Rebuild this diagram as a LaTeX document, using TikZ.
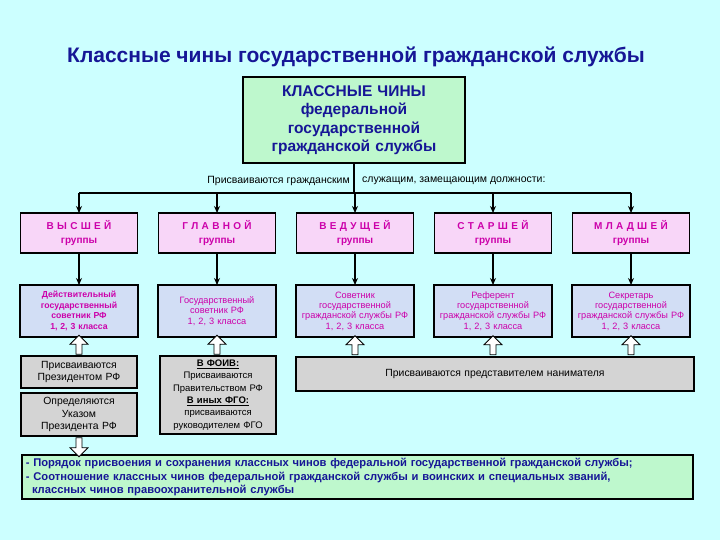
\documentclass[tikz,border=0pt]{standalone}
\usepackage{fontspec}
\setmainfont{Liberation Sans}
\usepackage{tikz}
\usetikzlibrary{arrows.meta,positioning,calc,shapes.arrows}
\definecolor{bgcyan}{RGB}{204,255,255}
\definecolor{navy}{RGB}{22,22,150}
\definecolor{mintgreen}{RGB}{190,248,205}
\definecolor{pinkbox}{RGB}{248,214,248}
\definecolor{bluebox}{RGB}{210,222,245}
\definecolor{greybox}{RGB}{212,212,212}
\definecolor{magtext}{RGB}{204,0,170}

\begin{document}
\begin{tikzpicture}[x=1pt,y=-1pt,node distance=21pt,
  box/.style={draw=black,line width=1.6pt,align=center,inner sep=2pt,outer sep=0pt},
  topbox/.style={box,fill=mintgreen,text width=218pt,minimum height=86pt,font=\fontsize{15.5}{18.5}\selectfont\bfseries,text=navy},
  grp/.style={box,fill=pinkbox,text width=113pt,minimum height=40pt,font=\fontsize{10}{14}\selectfont\bfseries,text=magtext},
  rank/.style={box,fill=bluebox,text width=114pt,minimum height=52pt,font=\fontsize{9.2}{10.4}\selectfont,text=magtext},
  grey/.style={draw=black,line width=1.2pt,fill=greybox,align=center,inner sep=2pt,font=\fontsize{10.4}{12.4}\selectfont},
  note/.style={box,fill=mintgreen,text width=667pt,minimum height=44pt,align=left,font=\fontsize{11.2}{13.5}\selectfont\bfseries,text=navy},
  lbl/.style={font=\fontsize{10.5}{12}\selectfont,inner sep=0pt},
  arr/.style={-{Stealth[length=7pt,width=6pt]},line width=1.6pt},
  hollow/.style={single arrow,draw=black,fill=white,line width=0.8pt,shape border rotate=90,minimum height=19pt,minimum width=18pt,single arrow head extend=6pt,inner sep=2.5pt}]
\useasboundingbox[fill=bgcyan] (0,0) rectangle (720,540);

\node[font=\fontsize{21}{24}\selectfont\bfseries,text=navy] (ttl) at (356,57) {Классные чины государственной гражданской службы};
\node[topbox] (top) at (354,120) {КЛАССНЫЕ ЧИНЫ\\федеральной\\государственной\\гражданской службы};
\coordinate (bar) at (354,193);
\node[lbl,anchor=east] (capL) at (350,181) {Присваиваются гражданским};
\node[lbl,anchor=west] (capR) at (362,181) {служащим, замещающим должности:};

% groups
\node[grp] (g1) at (79,233) {В\,\,Ы\,\,С\,\,Ш\,\,Е\,\,Й\\группы};
\node[grp,right=of g1] (g2) {Г\,\,Л\,\,А\,\,В\,\,Н\,\,О\,\,Й\\группы};
\node[grp,right=of g2] (g3) {В\,\,Е\,\,Д\,\,У\,\,Щ\,\,Е\,\,Й\\группы};
\node[grp,right=of g3] (g4) {С\,\,Т\,\,А\,\,Р\,\,Ш\,\,Е\,\,Й\\группы};
\node[grp,right=of g4] (g5) {М\,\,Л\,\,А\,\,Д\,\,Ш\,\,Е\,\,Й\\группы};

% ranks
\node[rank,below=32pt of g1,font=\fontsize{8.7}{10.4}\selectfont\bfseries] (r1) {Действительный\\государственный\\советник РФ\\1, 2, 3 класса};
\node[rank,below=32pt of g2] (r2) {Государственный\\советник РФ\\1, 2, 3 класса};
\node[rank,below=32pt of g3] (r3) {Советник\\государственной\\гражданской службы РФ\\1, 2, 3 класса};
\node[rank,below=32pt of g4] (r4) {Референт\\государственной\\гражданской службы РФ\\1, 2, 3 класса};
\node[rank,below=32pt of g5] (r5) {Секретарь\\государственной\\гражданской службы РФ\\1, 2, 3 класса};

% who assigns
\node[grey,text width=112pt,minimum height=32pt] (p1) at (79,372) {Присваиваются\\Президентом РФ};
\node[grey,text width=112pt,minimum height=43pt] (p2) at (79,414.5) {Определяются\\Указом\\Президента РФ};
\node[grey,text width=112pt,minimum height=78pt,font=\fontsize{9.5}{12.4}\selectfont] (p3) at (218,395) {\textbf{\underline{В ФОИВ:}}\\Присваиваются\\Правительством РФ\\\textbf{\underline{В иных ФГО:}}\\присваиваются\\руководителем ФГО};
\node[grey,text width=394pt,minimum height=34pt] (p4) at (495,374) {Присваиваются представителем нанимателя};

\node[note] (nt) at (357.5,477) {\,- Порядок присвоения и сохранения классных чинов федеральной государственной гражданской службы;\\\,- Соотношение классных чинов федеральной гражданской службы и воинских и специальных званий,\\\hspace*{8pt}классных чинов правоохранительной службы};

\draw[line width=1.6pt] (top.south) -- (bar);
\draw[line width=1.6pt] (g1.north |- bar) -- (g5.north |- bar);
\foreach \i in {1,...,5}{
  \draw[arr] (g\i.north |- bar) -- (g\i.north);
  \draw[arr] (g\i) -- (r\i);
}
\node[hollow] at ($(r1.south)!0.5!(p1.north)$) {};
\node[hollow] at ($(r2.south)!0.5!(r2.south |- p3.north)$) {};
\foreach \i in {3,4,5}
  \node[hollow] at ($(r\i.south)!0.5!(r\i.south |- p4.north)$) {};
\node[hollow,shape border rotate=270] at ($(p2.south)!0.5!(p2.south |- nt.north)$) {};
\end{tikzpicture}
\end{document}
